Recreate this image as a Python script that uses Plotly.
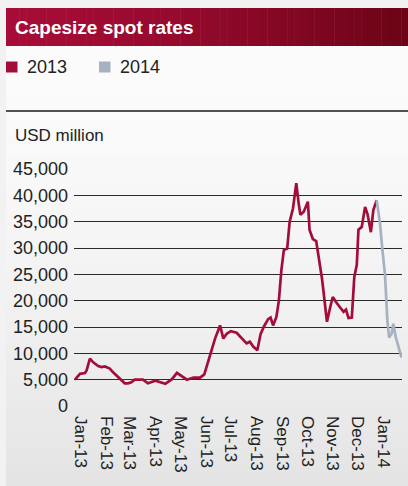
import plotly.graph_objects as go

# ---- data -------------------------------------------------------------
dates_2013 = [
    "2013-01-01", "2013-01-07", "2013-01-13", "2013-01-15", "2013-01-19", "2013-01-23",
    "2013-01-29", "2013-02-02", "2013-02-06", "2013-02-12", "2013-02-16", "2013-02-22",
    "2013-03-02", "2013-03-06", "2013-03-10", "2013-03-14", "2013-03-24", "2013-03-30",
    "2013-04-08", "2013-04-20", "2013-04-28", "2013-05-04", "2013-05-16", "2013-05-24",
    "2013-06-01", "2013-06-06", "2013-06-11", "2013-06-15", "2013-06-19", "2013-06-25",
    "2013-06-29", "2013-07-03", "2013-07-08", "2013-07-15", "2013-07-21", "2013-07-27",
    "2013-07-31", "2013-08-04", "2013-08-09", "2013-08-13", "2013-08-17", "2013-08-22",
    "2013-08-25", "2013-08-28", "2013-09-01", "2013-09-04", "2013-09-07", "2013-09-10",
    "2013-09-14", "2013-09-17", "2013-09-21", "2013-09-25", "2013-09-28", "2013-09-30",
    "2013-10-04", "2013-10-09", "2013-10-11", "2013-10-15", "2013-10-19", "2013-10-22",
    "2013-10-26", "2013-10-28", "2013-11-01", "2013-11-05", "2013-11-08", "2013-11-13",
    "2013-11-17", "2013-11-21", "2013-11-24", "2013-11-27", "2013-12-01", "2013-12-04",
    "2013-12-07", "2013-12-09", "2013-12-13", "2013-12-17", "2013-12-20", "2013-12-24",
    "2013-12-27", "2013-12-31",
]
rates_2013 = [
    5000, 6100, 6250, 6750, 9000, 8300,
    7600, 7400, 7500, 7100, 6400, 5500,
    4300, 4300, 4500, 5000, 5000, 4300,
    4800, 4200, 5100, 6300, 5000, 5400,
    5400, 6000, 8500, 10600, 12800, 15300,
    12800, 13700, 14200, 13900, 12900, 11900,
    12200, 11300, 10600, 13700, 15100, 16500,
    16800, 15300, 16900, 20000, 25800, 29600,
    29900, 35000, 37500, 42300, 38300, 36300,
    36900, 38800, 33400, 31700, 31300, 28500,
    24200, 21500, 16000, 18800, 20700, 19500,
    18600, 17900, 18300, 16700, 16800, 24500,
    26800, 33500, 34000, 37800, 36400, 33000,
    37200, 39100,
]

dates_2014 = [
    "2014-01-04", "2014-01-07", "2014-01-10", "2014-01-13", "2014-01-15",
    "2014-01-18", "2014-01-20", "2014-01-23", "2014-01-26", "2014-01-30",
]
rates_2014 = [
    34650, 29500, 25000, 16000, 13000,
    13700, 15600, 13100, 11500, 9200,
]

series_names = ["2013", "2014"]
series_colors = ["#a30d39", "#a6b2c1"]
y_ticks = list(range(0, 45001, 5000))
title_text = "Capesize spot rates"
unit_label = "USD million"

# ---- page geometry (pixels) -------------------------------------------
W, H = 408, 486
L, R, T, B = 74, 6, 169, 80
PW, PH = W - L - R, H - T - B


def fx(px):
    return (px - L) / PW


def fy(py):
    return (H - B - py) / PH


def mix(c1, c2, t):
    return "rgb({},{},{})".format(*[round(a + (b - a) * t) for a, b in zip(c1, c2)])


shapes = []

# panel with a soft vertical grey gradient
n_bands = 40
top, bottom = 46, H
for i in range(n_bands):
    y0 = top + (bottom - top) * i / n_bands
    y1 = top + (bottom - top) * (i + 1) / n_bands + 0.5
    shapes.append(dict(type="rect", xref="paper", yref="paper", layer="below",
                       x0=fx(6), x1=fx(W + 2), y0=fy(y0), y1=fy(y1),
                       fillcolor=mix((251, 251, 251), (228, 228, 228), (i / (n_bands - 1)) ** 1.6),
                       line=dict(width=0)))

# title banner with a horizontal red gradient
n_cols = 60
for i in range(n_cols):
    x0 = 6 + (W - 6) * i / n_cols
    x1 = 6 + (W - 6) * (i + 1) / n_cols + 0.5
    t = (i / (n_cols - 1)) ** 1.4
    shapes.append(dict(type="rect", xref="paper", yref="paper", layer="below",
                       x0=fx(x0), x1=fx(x1), y0=fy(8), y1=fy(46),
                       fillcolor=mix((166, 12, 55), (108, 4, 22), t),
                       line=dict(width=0)))

# legend swatches
shapes.append(dict(type="rect", xref="paper", yref="paper",
                   x0=fx(6), x1=fx(17.5), y0=fy(61.5), y1=fy(72.5),
                   fillcolor=series_colors[0], line=dict(width=0)))
shapes.append(dict(type="rect", xref="paper", yref="paper",
                   x0=fx(99), x1=fx(110.5), y0=fy(61.5), y1=fy(72.5),
                   fillcolor=series_colors[1], line=dict(width=0)))

# separator rule under the legend
shapes.append(dict(type="line", xref="paper", yref="paper",
                   x0=fx(6), x1=fx(W), y0=fy(111), y1=fy(111),
                   line=dict(color="#1a1a1a", width=1.5)))

font_family = "Liberation Sans, Arial, sans-serif"
annotations = [
    dict(text="<b>" + title_text + "</b>", xref="paper", yref="paper",
         x=fx(13), y=fy(27), xanchor="left", yanchor="middle", showarrow=False,
         font=dict(family=font_family, size=19, color="white")),
    dict(text=series_names[0], xref="paper", yref="paper",
         x=fx(25), y=fy(66.5), xanchor="left", yanchor="middle", showarrow=False,
         font=dict(family=font_family, size=18, color="#222222")),
    dict(text=series_names[1], xref="paper", yref="paper",
         x=fx(118), y=fy(66.5), xanchor="left", yanchor="middle", showarrow=False,
         font=dict(family=font_family, size=18, color="#222222")),
    dict(text=unit_label, xref="paper", yref="paper",
         x=fx(13), y=fy(136), xanchor="left", yanchor="middle", showarrow=False,
         font=dict(family=font_family, size=17, color="#222222")),
]

fig = go.Figure()
fig.add_trace(go.Scatter(
    x=dates_2013, y=rates_2013, mode="lines", name=series_names[0],
    line=dict(color=series_colors[0], width=2.7),
))
# the 2014 line continues from the last 2013 observation
fig.add_trace(go.Scatter(
    x=[dates_2013[-1]] + dates_2014, y=[rates_2013[-1]] + rates_2014,
    mode="lines", name=series_names[1],
    line=dict(color=series_colors[1], width=2.7),
))

fig.update_layout(
    width=W, height=H,
    margin=dict(l=L, r=R, t=T, b=B, pad=0),
    paper_bgcolor="#f2f2f2",
    plot_bgcolor="rgba(0,0,0,0)",
    showlegend=False,
    shapes=shapes,
    annotations=annotations,
    font=dict(family=font_family, color="#222222"),
)
fig.update_xaxes(
    type="date",
    range=["2012-12-30 19:12", "2014-01-30 13:12"],
    tick0="2013-01-01", dtick="M1", tickformat="%b-%y",
    tickangle=90, ticks="", showgrid=False, zeroline=False, showline=False,
    tickfont=dict(size=17, color="#222222"),
    ticklabelshift=6, ticklabelstandoff=9,
)
fig.update_yaxes(
    range=[0, 45000], tickvals=y_ticks, tickformat=",",
    showgrid=True, gridcolor="#2a2a2a", gridwidth=1.3,
    zeroline=False, showline=False, ticks="",
    tickfont=dict(size=18, color="#222222"),
    ticklabelstandoff=5,
)

fig.write_html("out.html")
